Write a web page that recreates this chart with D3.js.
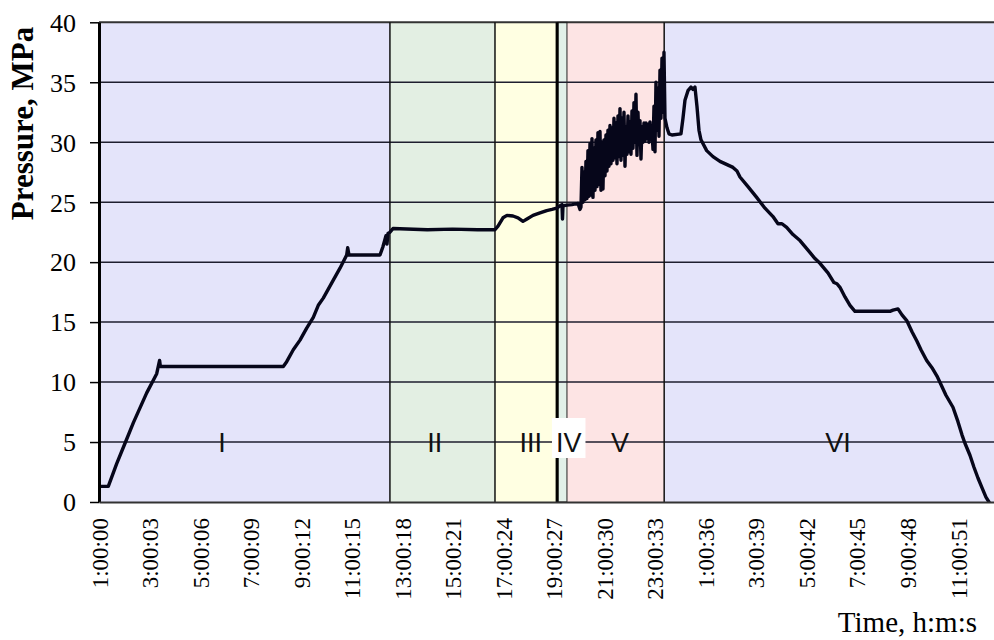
<!DOCTYPE html>
<html><head><meta charset="utf-8">
<script src="https://cdn.jsdelivr.net/npm/d3@7/dist/d3.min.js"></script>
<style>body{margin:0;background:#fff}svg{display:block}</style>
</head><body><svg id="c" width="994" height="640"></svg>
<script>
// ---- data ----
const tickLabels = ["1:00:00","3:00:03","5:00:06","7:00:09","9:00:12","11:00:15","13:00:18","15:00:21","17:00:24","19:00:27","21:00:30","23:00:33","1:00:36","3:00:39","5:00:42","7:00:45","9:00:48","11:00:51"];
const yTicks = [0,5,10,15,20,25,30,35,40];
const regionNames = ["I","II","III","IV","V","VI"];
const regionStart = [0, 11.52, 15.68, 18.17, 18.53, 22.38];
const regionEnd   = [11.52, 15.68, 18.14, 18.53, 22.38, 35.44];
const regionLabelAt = [4.87, 13.30, 17.10, 18.60, 20.63, 29.26];
const iiiEnd = 18.14;

const timeHours = [
 0.000,0.368,0.701,1.030,1.358,1.889,2.285,2.400,2.430,7.298,7.432,7.693,7.959,8.224,8.486,8.683,8.881,9.277,9.543,9.808,9.848,9.899,
 11.127,11.245,11.364,11.404,11.443,11.522,11.641,13.000,14.000,15.000,15.680,15.799,15.997,16.155,16.393,16.591,16.789,16.947,17.185,
 17.462,17.727,17.937,18.123,18.254,18.333,18.353,18.373,18.531,18.729,18.967,19.046,
 19.085,19.125,19.164,19.204,19.244,19.283,19.323,19.362,19.402,19.442,19.481,19.521,19.560,19.600,19.640,19.679,19.719,19.758,19.798,19.838,
 19.877,19.917,19.956,19.996,20.036,20.075,20.115,20.154,20.194,20.234,20.273,20.313,20.352,20.392,20.432,20.471,20.511,20.551,20.590,20.630,
 20.669,20.709,20.749,20.788,20.828,20.867,20.907,20.947,20.986,21.026,21.065,21.105,21.145,21.184,21.224,21.263,21.303,21.343,21.382,21.422,
 21.461,21.501,21.541,21.580,21.620,21.659,21.699,21.739,21.778,21.818,21.857,21.897,21.937,21.976,22.016,22.055,22.095,22.135,22.174,22.214,
 22.253,22.293,22.333,22.372,
 22.412,22.491,22.570,22.689,23.045,23.124,23.203,23.322,23.441,23.520,23.599,23.678,23.758,23.837,24.063,24.312,24.589,25.104,25.262,25.381,
 25.698,26.042,26.371,26.688,26.886,27.044,27.230,27.480,27.757,28.074,28.351,28.549,28.865,29.103,29.222,29.341,29.539,29.737,29.935,31.321,
 31.440,31.638,31.796,31.994,32.192,32.390,32.548,32.774,32.984,33.182,33.340,33.538,33.815,34.013,34.172,34.290,34.488,34.647,34.805,34.963,
 35.121,35.240
];
const pressureMPa = [
 1.3,1.3,3.2,4.9,6.6,9.1,10.7,11.8,11.3,11.3,11.7,12.7,13.5,14.5,15.4,16.4,17.0,18.5,19.5,20.6,21.2,20.6,
 20.6,21.3,22.2,21.5,22.4,22.5,22.8,22.7,22.75,22.7,22.7,23.0,23.7,23.9,23.85,23.7,23.4,23.6,23.9,
 24.1,24.3,24.4,24.5,24.7,24.8,23.6,24.7,24.75,24.8,24.9,24.4,
 24.6,27.9,25.0,27.5,25.2,28.4,25.3,29.3,25.5,29.9,25.6,30.3,25.4,29.5,26.0,30.2,26.3,30.8,26.5,30.9,
 26.0,30.0,26.1,30.2,27.2,30.6,27.6,31.0,28.0,31.4,28.2,31.2,28.5,32.0,28.7,31.6,28.2,32.2,28.8,32.8,
 28.5,32.0,28.9,32.5,28.0,31.3,29.0,32.2,29.2,31.7,29.0,32.6,29.5,33.3,30.0,34.0,28.9,32.5,29.8,31.8,
 28.6,31.3,30.0,31.6,30.1,31.6,30.3,31.5,30.0,31.7,30.2,31.0,29.4,33.0,29.2,35.0,31.0,34.5,30.5,36.0,
 32.0,37.0,32.5,37.5,
 32.0,31.2,30.7,30.6,30.7,32.0,33.5,34.3,34.6,34.4,34.6,33.0,31.0,30.2,29.3,28.8,28.4,27.9,27.6,27.1,
 26.3,25.4,24.5,23.8,23.2,23.2,22.9,22.3,21.8,21.0,20.3,19.9,19.1,18.3,18.2,17.9,17.1,16.4,15.9,15.9,
 16.0,16.1,15.6,15.1,14.2,13.4,12.7,11.8,11.2,10.5,9.8,8.9,7.9,6.7,5.6,4.9,3.9,2.9,2.0,1.2,
 0.4,0.0
];

// ---- styles ----
const regionFill = {"I":"#e4e4fa","II":"#e3efe3","III":"#ffffe2","IV":"#e2f0e8","V":"#fde4e4","VI":"#e4e4fa"};
const serif = "'Liberation Serif','Times New Roman',serif";
const sans = "'Liberation Sans',Arial,sans-serif";

// tick positions (elapsed hours) from the clock labels
const tickHours = (() => {
  let prev = -1, off = 0, first = null;
  return tickLabels.map(s => {
    const [h,m,sec] = s.split(":").map(Number);
    let v = h + m/60 + sec/3600 + off;
    if (v < prev) { off += 24; v += 24; }
    prev = v;
    if (first === null) first = v;
    return v - first;
  });
})();

const svg = d3.select("#c");
const L = 99, R = 994, T = 22.3, B = 502;
const x = d3.scaleLinear().domain([0, 35.44]).range([L, R]);
const y = d3.scaleLinear().domain([0, 40]).range([B, T]);

svg.append("rect").attr("width",994).attr("height",640).attr("fill","#fff");
svg.append("defs").append("clipPath").attr("id","clip")
  .append("rect").attr("x",L).attr("y",T).attr("width",R-L).attr("height",B-T);

// regions
const regions = regionNames.map((n,i)=>({n, s:regionStart[i], e:regionEnd[i], at:regionLabelAt[i]}));
svg.append("g").selectAll("rect").data(regions).join("rect")
  .attr("x", d=>x(d.s)).attr("y", T).attr("width", d=>x(d.e)-x(d.s)).attr("height", B-T)
  .attr("fill", d=>regionFill[d.n]);

// grid lines
svg.append("g").selectAll("line").data(yTicks.filter(v=>v>0 && v<40)).join("line")
  .attr("x1",L).attr("x2",R).attr("y1",d=>y(d)).attr("y2",d=>y(d))
  .attr("stroke","#1e1e2e").attr("stroke-width",1.5);
// top border
svg.append("line").attr("x1",L).attr("x2",R).attr("y1",y(40)).attr("y2",y(40))
  .attr("stroke","#333").attr("stroke-width",2);

// region boundaries
const bounds = [regionEnd[0], regionEnd[1], regionEnd[4]];
svg.append("g").selectAll("line").data(bounds).join("line")
  .attr("x1",d=>x(d)).attr("x2",d=>x(d)).attr("y1",T).attr("y2",B)
  .attr("stroke","#111").attr("stroke-width",1.5);
// IV box
svg.append("rect").attr("x",x(regionStart[3])).attr("y",T).attr("width",x(regionEnd[3])-x(regionStart[3])).attr("height",B-T)
  .attr("fill","none").attr("stroke","#222").attr("stroke-width",1);
svg.append("line").attr("x1",x(iiiEnd)).attr("x2",x(iiiEnd)).attr("y1",T).attr("y2",B)
  .attr("stroke","#000").attr("stroke-width",3);

// region labels
const lg = svg.append("g").attr("font-family",sans).attr("font-size",27).attr("text-anchor","middle");
regions.forEach(d=>{
  const g = lg.append("g");
  const t = g.append("text").attr("x",x(d.at)).attr("y",452).text(d.n).attr("fill","#111");
  if (d.n === "IV") {
    const bb = t.node().getBBox();
    g.insert("rect","text").attr("x",bb.x-4).attr("y",418).attr("width",bb.width+8).attr("height",40).attr("fill","#fff");
  }
});

// series
svg.append("path").datum(timeHours.map((t,i)=>[t,pressureMPa[i]]))
  .attr("clip-path","url(#clip)")
  .attr("fill","none").attr("stroke","#06061a").attr("stroke-width",3.4)
  .attr("stroke-linejoin","round").attr("stroke-linecap","round")
  .attr("d", d3.line().x(d=>x(d[0])).y(d=>y(d[1])));

// y axis
const ya = svg.append("g").attr("transform",`translate(${L},0)`)
  .call(d3.axisLeft(y).tickValues(yTicks).tickSize(9).tickSizeOuter(0).tickPadding(14));
ya.select(".domain").attr("stroke","#000").attr("stroke-width",3);
ya.selectAll(".tick line").attr("stroke","#000").attr("stroke-width",1.5);
ya.selectAll("text").attr("font-family",serif).attr("font-size",26).attr("fill","#000").attr("dy","0.34em");

// x axis
const xa = svg.append("g").attr("transform",`translate(0,${B})`)
  .call(d3.axisBottom(x).tickValues(tickHours).tickFormat((d,i)=>tickLabels[i]).tickSize(0).tickSizeOuter(0));
xa.select(".domain").attr("stroke","#333").attr("stroke-width",2);
xa.selectAll("text").attr("font-family",serif).attr("font-size",23).attr("fill","#000")
  .attr("text-anchor","end").attr("x",0).attr("y",0).attr("dy","0.35em")
  .attr("transform","translate(0,16) rotate(-90)");

// titles
svg.append("text").attr("x",977).attr("y",632).attr("text-anchor","end")
  .attr("font-family",serif).attr("font-size",29).text("Time, h:m:s");
svg.append("text").attr("transform","translate(33,123.5) rotate(-90)").attr("text-anchor","middle")
  .attr("font-family",serif).attr("font-weight","bold").attr("font-size",31).text("Pressure, MPa");
</script></body></html>
